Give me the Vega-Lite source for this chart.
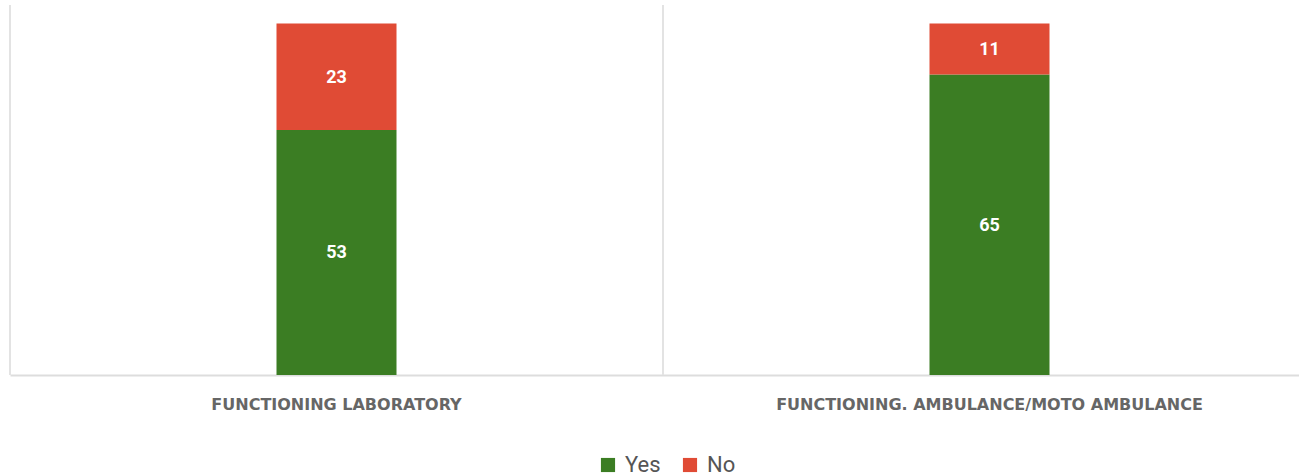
{
  "$schema": "https://vega.github.io/schema/vega-lite/v6.json",
  "width": 1306,
  "height": 370,
  "autosize": "none",
  "padding": {"left": 10, "top": 5, "right": 0, "bottom": 101},
  "background": "white",
  "config": {"view": {"stroke": null}},
  "data": {"values": [
    {"category": "FUNCTIONING LABORATORY", "answer": "Yes", "count": 53},
    {"category": "FUNCTIONING LABORATORY", "answer": "No", "count": 23},
    {"category": "FUNCTIONING. AMBULANCE/MOTO AMBULANCE", "answer": "Yes", "count": 65},
    {"category": "FUNCTIONING. AMBULANCE/MOTO AMBULANCE", "answer": "No", "count": 11}
  ]},
  "encoding": {
    "x": {"field": "category", "type": "nominal", "sort": null, "scale": {"paddingInner": 0, "paddingOuter": 0},
      "axis": {"title": null, "labelAngle": 0, "ticks": false, "grid": false, "domainColor": "#dddddd", "domainWidth": 2,
        "labelFont": "DejaVu Sans", "labelFontWeight": "bold", "labelFontSize": 16, "labelColor": "#666666", "labelPadding": 21, "labelLimit": 0}}
  },
  "layer": [
    {
      "mark": {"type": "rule", "color": "#e3e3e3", "strokeWidth": 2},
      "encoding": {"x": {"field": "category", "type": "nominal", "sort": null, "bandPosition": 0}}
    },
    {
      "mark": {"type": "bar", "width": 120},
      "encoding": {
        "y": {"field": "count", "type": "quantitative", "stack": "zero", "scale": {"domain": [0, 80]}, "axis": null},
        "color": {"field": "answer", "type": "nominal", "sort": ["Yes", "No"],
          "scale": {"domain": ["Yes", "No"], "range": ["#3b7d23", "#e04b35"]},
          "legend": {"title": null, "orient": "none", "direction": "horizontal", "legendX": 587, "legendY": 449,
            "symbolType": "square", "symbolSize": 200, "symbolStrokeWidth": 0, "symbolOpacity": 1,
            "labelFont": "Roboto", "labelFontSize": 22, "labelColor": "#555555", "labelOffset": 6, "columnPadding": 18}}
      }
    },
    {
      "mark": {"type": "text", "color": "white", "font": "Roboto", "fontWeight": "bold", "fontSize": 18, "baseline": "middle", "dy": 1},
      "encoding": {
        "y": {"field": "count", "type": "quantitative", "stack": "zero", "bandPosition": 0.5},
        "detail": {"field": "answer"},
        "text": {"field": "count", "type": "quantitative"}
      }
    }
  ]
}
